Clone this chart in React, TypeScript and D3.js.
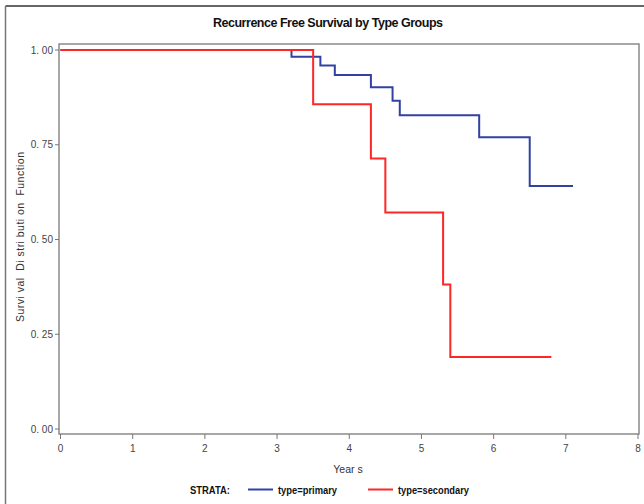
import React from "react";
import * as d3 from "d3";

const title = "Recurrence Free Survival by Type Groups";
const xLabel = "Year s";
const yLabel = "Survi val  Di stri buti on  Function";
const xTicks = [0, 1, 2, 3, 4, 5, 6, 7, 8];
const yTicks = [0, 0.25, 0.5, 0.75, 1];
const yTickLabels = ["0. 00", "0. 25", "0. 50", "0. 75", "1. 00"];

const primaryTimes = [0, 3.2, 3.6, 3.8, 4.3, 4.6, 4.7, 5.8, 6.5, 7.1];
const primarySurv = [1, 0.982, 0.959, 0.934, 0.902, 0.866, 0.828, 0.77, 0.641, 0.641];
const secondaryTimes = [0, 3.5, 4.3, 4.5, 5.3, 5.4, 6.8];
const secondarySurv = [1, 0.857, 0.714, 0.571, 0.381, 0.19, 0.19];

const strataNames = ["type=primary", "type=secondary"];
const strataColors = ["#3142a2", "#ff2626"];

export default function App() {
  const W = 644;
  const H = 504;
  const x = d3.scaleLinear().domain([0, 8]).range([60.5, 638]);
  const y = d3.scaleLinear().domain([0, 1]).range([429, 50]);
  const frame = { l: 59, t: 44, r: 639, b: 434 };

  const line = d3
    .line<[number, number]>()
    .x((d) => x(d[0]))
    .y((d) => y(d[1]))
    .curve(d3.curveStepAfter);

  const series = [
    primaryTimes.map((t, i) => [t, primarySurv[i]] as [number, number]),
    secondaryTimes.map((t, i) => [t, secondarySurv[i]] as [number, number]),
  ];

  const font = "'Liberation Sans', Arial, sans-serif";
  const legendX = [248, 368];
  const legendLen = [59, 71];

  return (
    <svg
      width={W}
      height={H}
      style={{ position: "absolute", left: 0, top: 0, background: "#fff" }}
      fontFamily={font}
    >
      <rect x={0} y={0} width={W} height={H} fill="#fff" />
      {/* outer frame */}
      <line x1={5.5} y1={6} x2={W + 5} y2={6} stroke="#333" strokeWidth={1.5} />
      <line x1={5.5} y1={6} x2={5.5} y2={H + 5} stroke="#777" strokeWidth={1.5} />

      <text x={328} y={27} textAnchor="middle" fontSize={12.5} fontWeight="bold" fill="#111" textLength={230}>
        {title}
      </text>

      {/* plot frame */}
      <rect
        x={frame.l}
        y={frame.t}
        width={frame.r - frame.l}
        height={frame.b - frame.t}
        fill="none"
        stroke="#8a8a8a"
        strokeWidth={1.5}
      />

      {/* y ticks */}
      {yTicks.map((v, i) => (
        <g key={"y" + i}>
          <line x1={frame.l - 4} x2={frame.l} y1={y(v)} y2={y(v)} stroke="#777" strokeWidth={1} />
          <text x={frame.l - 6} y={y(v) + 3.5} textAnchor="end" fontSize={10} fill="#444" style={{ whiteSpace: "pre" }}>
            {yTickLabels[i]}
          </text>
        </g>
      ))}

      {/* x ticks */}
      {xTicks.map((v) => (
        <g key={"x" + v}>
          <line x1={x(v)} x2={x(v)} y1={frame.b} y2={frame.b + 5} stroke="#777" strokeWidth={1} />
          <text x={x(v)} y={452} textAnchor="middle" fontSize={10} fill="#444">
            {v}
          </text>
        </g>
      ))}

      <text x={348} y={473} textAnchor="middle" fontSize={10.5} fill="#333" style={{ whiteSpace: "pre" }}>
        {xLabel}
      </text>
      <text
        transform={`translate(24,237) rotate(-90)`}
        textAnchor="middle"
        fontSize={10.5}
        fill="#333"
        textLength={170}
        style={{ whiteSpace: "pre" }}
      >
        {yLabel}
      </text>

      {/* curves */}
      {series.map((s, i) => (
        <path key={"s" + i} d={line(s) || ""} fill="none" stroke={strataColors[i]} strokeWidth={2} />
      ))}

      {/* legend */}
      <text x={190} y={493.5} fontSize={10.5} fontWeight="bold" fill="#111" textLength={40} lengthAdjust="spacingAndGlyphs">
        STRATA:
      </text>
      {strataNames.map((n, i) => {
        const lx = legendX[i];
        return (
          <g key={"l" + i}>
            <line x1={lx} x2={lx + 25} y1={489.5} y2={489.5} stroke={strataColors[i]} strokeWidth={2} />
            <text
              x={lx + 30}
              y={493.5}
              fontSize={10.5}
              fontWeight="bold"
              fill="#111"
              textLength={legendLen[i]}
              lengthAdjust="spacingAndGlyphs"
            >
              {n}
            </text>
          </g>
        );
      })}
    </svg>
  );
}
